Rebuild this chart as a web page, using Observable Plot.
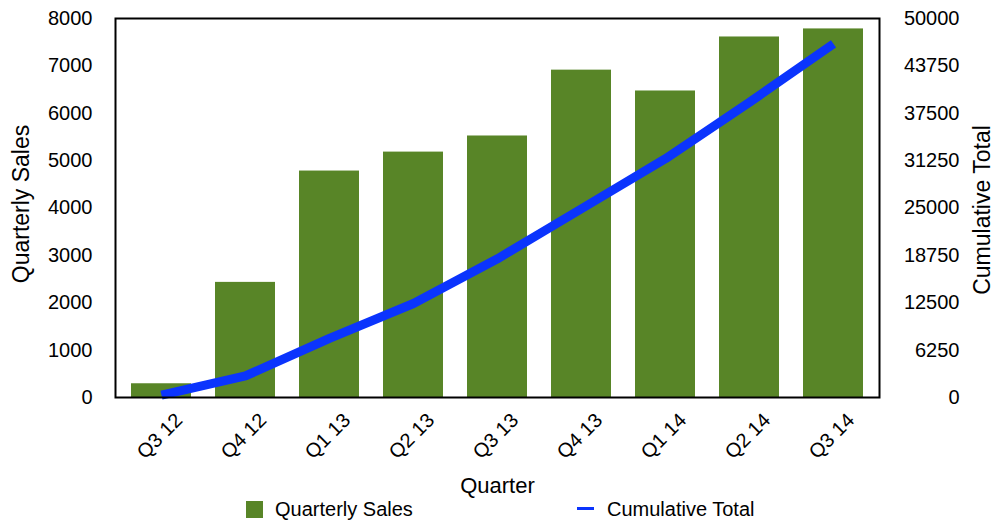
<!DOCTYPE html>
<html>
<head>
<meta charset="utf-8">
<script src="https://cdn.jsdelivr.net/npm/d3@7"></script>
<script src="https://cdn.jsdelivr.net/npm/@observablehq/plot@0.6"></script>
<style>
  html, body { margin: 0; padding: 0; background: #fff; }
  #wrap { width: 996px; height: 520px; overflow: hidden; font-family: "Liberation Sans", Arial, sans-serif; }
  #legend { position: relative; height: 20px; font-size: 20px; color: #000; }
  #legend span { position: absolute; white-space: nowrap; }
</style>
</head>
<body>
<div id="wrap">
  <div id="chart"></div>
  <div id="legend">
    <span style="left:246px;top:1px;width:17px;height:17px;background:#588527"></span>
    <span style="left:275px;top:-2px;line-height:23px">Quarterly Sales</span>
    <span style="left:577px;top:7px;width:17px;height:3px;background:#0b34fd"></span>
    <span style="left:607px;top:-2px;line-height:23px">Cumulative Total</span>
  </div>
</div>
<script>
const quarters = ["Q3 12", "Q4 12", "Q1 13", "Q2 13", "Q3 13", "Q4 13", "Q1 14", "Q2 14", "Q3 14"];
const sales = [290, 2430, 4780, 5180, 5520, 6910, 6470, 7610, 7780];
const cumulative = [300, 2840, 7800, 12400, 18300, 24900, 31500, 38950, 46650];
const leftTicks = [0, 1000, 2000, 3000, 4000, 5000, 6000, 7000, 8000];
const rightTicks = [0, 6250, 12500, 18750, 25000, 31250, 37500, 43750, 50000];
const leftMax = 8000;
const rightMax = 50000;

const data = quarters.map((q, i) => ({quarter: q, sales: sales[i], cumulative: cumulative[i]}));
const toLeft = v => v * leftMax / rightMax;

const chart = Plot.plot({
  width: 996,
  height: 500,
  marginTop: 18,
  marginBottom: 103,
  marginLeft: 115,
  marginRight: 117,
  style: {fontSize: "20px", fontFamily: "'Liberation Sans', Arial, sans-serif", color: "#000", background: "#fff", overflow: "visible"},
  x: {domain: quarters, paddingInner: 0.29, paddingOuter: 0.145, axis: null},
  y: {domain: [0, leftMax], axis: null},
  marks: [
    Plot.barY(data, {x: "quarter", y: "sales", fill: "#588527"}),
    Plot.line(data, {x: "quarter", y: d => toLeft(d.cumulative), stroke: "#0b34fd", strokeWidth: 9, strokeLinecap: "butt", strokeLinejoin: "miter"}),
    Plot.frame({stroke: "#000", strokeWidth: 2}),
    Plot.text(leftTicks, {y: d => d, text: d => String(d), frameAnchor: "left", textAnchor: "end", dx: -23}),
    Plot.text(rightTicks, {y: d => toLeft(d), text: d => String(d), frameAnchor: "right", textAnchor: "end", dx: 80}),
    Plot.text(quarters, {x: d => d, text: d => d, frameAnchor: "bottom", textAnchor: "end", rotate: -45, dx: 22, dy: 24}),
    Plot.text(["Quarter"], {text: d => d, frameAnchor: "bottom", textAnchor: "middle", fontSize: 22, dy: 95}),
    Plot.text(["Quarterly Sales"], {text: d => d, frameAnchor: "left", textAnchor: "middle", fontSize: 23, rotate: -90, dx: -94, dy: -4}),
    Plot.text(["Cumulative Total"], {text: d => d, frameAnchor: "right", textAnchor: "middle", fontSize: 23, rotate: -90, dx: 103, dy: 2})
  ]
});
document.getElementById("chart").appendChild(chart);
</script>
</body>
</html>
